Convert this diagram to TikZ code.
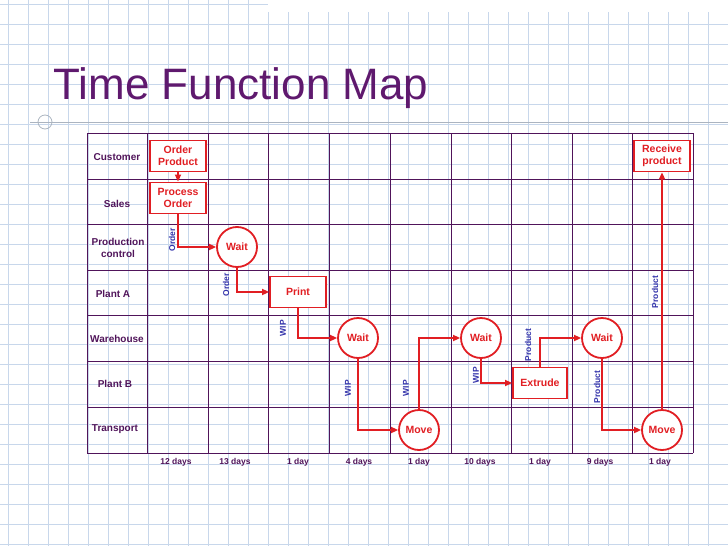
\documentclass[tikz,border=0pt]{standalone}
\usepackage{fontspec}
\setmainfont{Liberation Sans}
\usetikzlibrary{arrows.meta}
\definecolor{gridblue}{RGB}{200,215,235}
\definecolor{titlepurple}{RGB}{95,25,110}
\definecolor{tabline}{RGB}{80,20,90}
\definecolor{flowred}{RGB}{225,30,35}
\definecolor{flowblue}{RGB}{50,50,170}
\tikzset{
  box/.style={draw=flowred,line width=1.8pt,fill=white,text=flowred,font=\bfseries\fontsize{10.5}{12}\selectfont,align=center,minimum width=56pt,minimum height=31pt,inner sep=1pt},
  step circle/.style={circle,draw=flowred,line width=1.8pt,fill=white,text=flowred,font=\bfseries\fontsize{10.5}{12}\selectfont,minimum size=40pt,inner sep=0pt},
  flow/.style={draw=flowred,line width=1.7pt,-{Triangle[length=7pt,width=6pt]}},
  tag/.style={text=flowblue,font=\bfseries\fontsize{8.5}{9}\selectfont,rotate=90},
  rowlabel/.style={text=tabline,font=\bfseries\fontsize{10}{12}\selectfont,align=center},
  daylabel/.style={text=tabline,font=\bfseries\fontsize{8.5}{9}\selectfont}
}
\begin{document}
\begin{tikzpicture}[x=1pt,y=-1pt]
\useasboundingbox (0,0) rectangle (728,546);
% graph paper
\foreach \gx in {0,20,...,720}
  \draw[gridblue,line width=0.5pt] (\gx+8,0) -- (\gx+8,546);
\foreach \gy in {0,20,...,540}
  \draw[gridblue,line width=0.5pt] (0,\gy+4) -- (728,\gy+4);
\fill[white] (268,0) rectangle (728,12);
% title
\node[anchor=west,text=titlepurple,font=\fontsize{44}{48}\selectfont] (title) at (50,88) {Time Function Map};
\draw[gridblue!60!gray,line width=0.8pt] (30,122) -- (728,122);
\draw[gridblue!60!gray,line width=0.8pt] (45,122) circle (7);
% table
\foreach \tx in {87,147,208,268,329,390,451,511,572,632,693}
  \draw[tabline,line width=0.9pt] (\tx,133) -- (\tx,453);
\foreach \ty in {133,179,224,270,315,361,407,453}
  \draw[tabline,line width=0.9pt] (87,\ty) -- (693,\ty);
% rows
\node[rowlabel] (rcust) at (117,157) {Customer};
\node[rowlabel] (rsales) at (117,204) {Sales};
\node[rowlabel] (rprod) at (118,248) {Production\\control};
\node[rowlabel] (rplanta) at (113,294) {Plant A};
\node[rowlabel] (rware) at (117,339) {Warehouse};
\node[rowlabel] (rplantb) at (115,384) {Plant B};
\node[rowlabel] (rtrans) at (115,429) {Transport};
% days
\foreach \dx/\dd in {176/12 days,235/13 days,298/1 day,359/4 days,419/1 day,480/10 days,540/1 day,600/9 days,660/1 day}
  \node[daylabel] at (\dx,462) {\dd};
% steps
\node[box] (order) at (178,156) {Order\\Product};
\node[box] (process) at (178,198) {Process\\Order};
\node[step circle] (wait1) at (237,247) {Wait};
\node[box] (print) at (298,292) {Print};
\node[step circle] (wait2) at (358,338) {Wait};
\node[step circle] (move1) at (419,430) {Move};
\node[step circle] (wait3) at (481,338) {Wait};
\node[box,minimum width=54pt] (extrude) at (540,383) {Extrude};
\node[step circle] (wait4) at (602,338) {Wait};
\node[step circle] (move2) at (662,430) {Move};
\node[box] (receive) at (662,156) {Receive\\product};
% flows
\draw[flow] (order) -- (process);
\draw[flow] (process.south) |- (wait1.west);
\draw[flow] (wait1.south) |- (print.west);
\draw[flow] (print.south) |- (wait2.west);
\draw[flow] (wait2.south) |- (move1.west);
\draw[flow] (move1.north) |- (wait3.west);
\draw[flow] (wait3.south) |- (extrude.west);
\draw[flow] (extrude.north) |- (wait4.west);
\draw[flow] (wait4.south) |- (move2.west);
\draw[flow] (move2.north) -- (receive.south);
% flow tags
\node[tag] (t1) at (172,240) {Order};
\node[tag] (t2) at (226,285) {Order};
\node[tag] (t3) at (283,328) {WIP};
\node[tag] (t4) at (348,388) {WIP};
\node[tag] (t5) at (406,388) {WIP};
\node[tag] (t6) at (476,375) {WIP};
\node[tag] (t7) at (528,345) {Product};
\node[tag] (t8) at (597,387) {Product};
\node[tag] (t9) at (655,292) {Product};
\end{tikzpicture}
\end{document}
